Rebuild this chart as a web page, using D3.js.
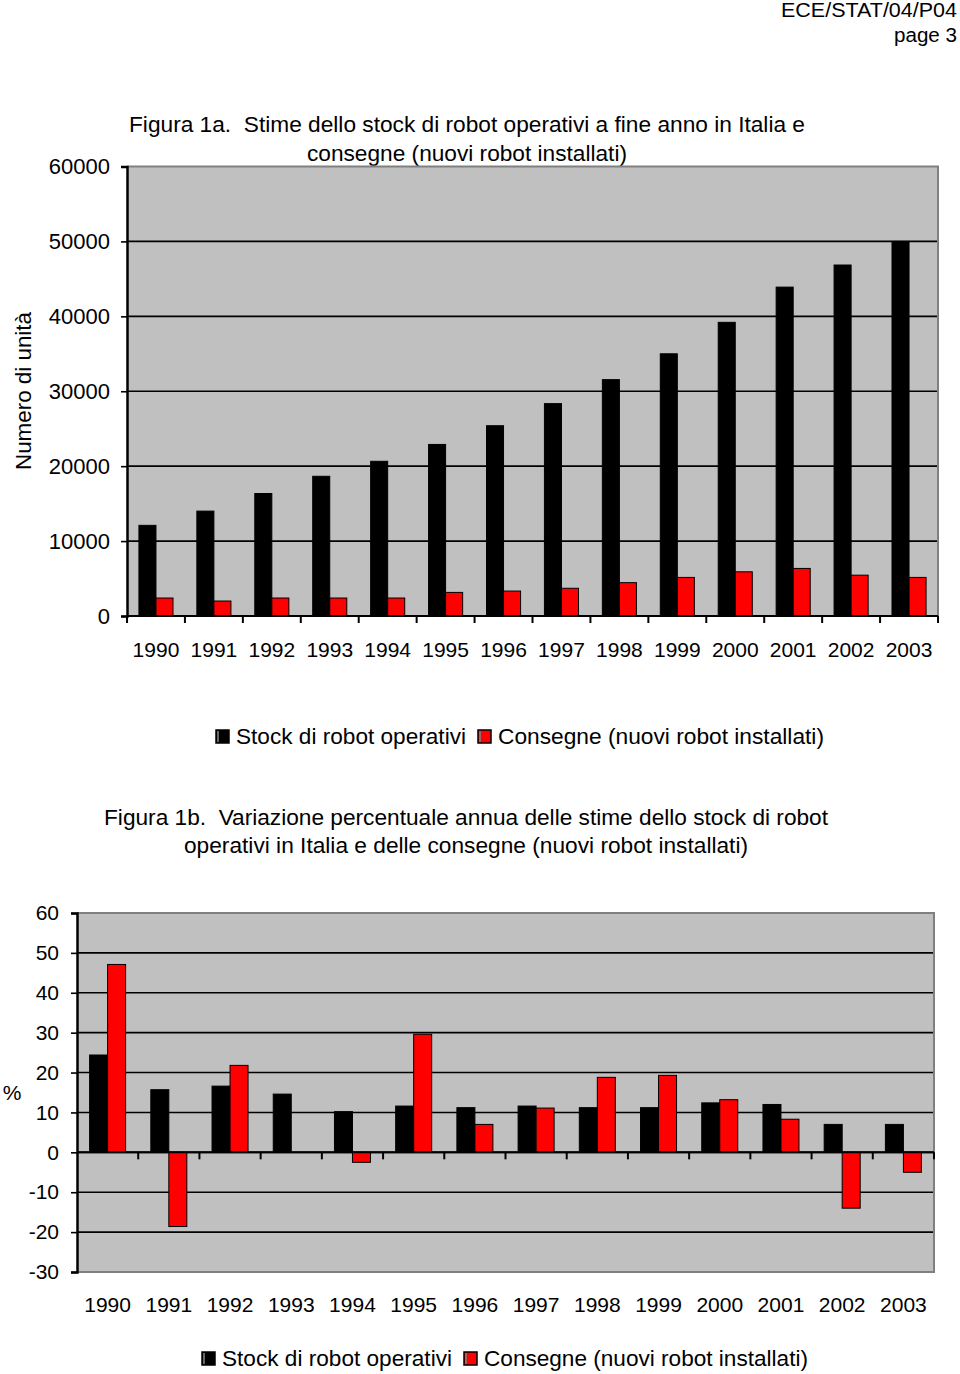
<!DOCTYPE html>
<html><head><meta charset="utf-8">
<script src="https://cdn.jsdelivr.net/npm/d3@7"></script>
<style>body{margin:0;background:#fff}svg{display:block}text{font-family:"Liberation Sans",Arial,sans-serif;fill:#000}</style>
</head><body>
<script>
const years = ["1990","1991","1992","1993","1994","1995","1996","1997","1998","1999","2000","2001","2002","2003"];
const stock = [12100,14000,16350,18650,20650,22900,25400,28350,31550,35000,39200,43900,46850,50000];
const consegne = [2400,2000,2400,2400,2400,3150,3330,3700,4450,5150,5900,6350,5450,5150];
const stockPct = [24.4,15.7,16.6,14.6,10.2,11.6,11.2,11.6,11.2,11.2,12.4,12.0,7.0,7.0];
const consegnePct = [47.1,-18.6,21.8,0,-2.5,29.6,7.0,11.1,18.8,19.3,13.2,8.3,-14.0,-5.0];
const seriesNames = ["Stock di robot operativi","Consegne (nuovi robot installati)"];
const seriesColors = ["#000000","#ff0000"];
const ticks1 = [0,10000,20000,30000,40000,50000,60000];
const ticks2 = [-30,-20,-10,0,10,20,30,40,50,60];

const W = 960, H = 1374;
const svg = d3.select("body").append("svg").attr("width",W).attr("height",H);
svg.append("rect").attr("width",W).attr("height",H).attr("fill","#fff");

function txt(o){
  const t = svg.append("text").attr("x",o.x).attr("y",o.y).attr("font-size",o.size||20)
    .attr("text-anchor",o.anchor||"start").attr("xml:space","preserve").text(o.text);
  if(o.len){ t.attr("textLength",o.len).attr("lengthAdjust","spacingAndGlyphs"); }
  if(o.transform){ t.attr("transform",o.transform); }
  return t;
}

txt({x:957,y:17,anchor:"end",size:20,text:"ECE/STAT/04/P04",len:176});
txt({x:957,y:42,anchor:"end",size:20,text:"page 3",len:63});

function drawChart(cfg){
  const g = svg.append("g");
  const x = d3.scaleBand().domain(years).range([cfg.left,cfg.right]);
  const bw = x.bandwidth();
  const barW = bw/3.4;
  const xs = d3.scaleBand().domain([0,1]).range([(bw-2*barW)/2,(bw+2*barW)/2]);
  const y = d3.scaleLinear().domain(cfg.domain).range([cfg.bottom,cfg.top]);
  g.append("rect").attr("x",cfg.left).attr("y",cfg.top).attr("width",cfg.right-cfg.left).attr("height",cfg.bottom-cfg.top).attr("fill","#c0c0c0");
  g.selectAll(".grid").data(cfg.ticks.filter(t=>t!==cfg.domain[0]&&t!==cfg.domain[1])).join("line")
    .attr("x1",cfg.left).attr("x2",cfg.right).attr("y1",d=>y(d)).attr("y2",d=>y(d))
    .attr("stroke","#000").attr("stroke-width",1.6);
  g.append("path").attr("d",`M${cfg.left},${y(cfg.domain[1])}H${cfg.right}V${y(cfg.domain[0])}H${cfg.left}`)
    .attr("fill","none").attr("stroke","#808080").attr("stroke-width",2);
  [cfg.s1,cfg.s2].forEach((arr,si)=>{
    g.selectAll(".b"+si).data(arr).join("rect")
      .attr("x",(d,i)=>x(years[i])+xs(si))
      .attr("width",xs.bandwidth())
      .attr("y",d=>y(Math.max(0,d)))
      .attr("height",d=>Math.abs(y(d)-y(0)))
      .attr("fill",seriesColors[si]).attr("stroke","#000").attr("stroke-width",1);
  });
  const ya = g.append("g").attr("transform",`translate(${cfg.left},0)`)
    .call(d3.axisLeft(y).tickValues(cfg.ticks).tickSize(6).tickPadding(cfg.tickPad).tickFormat(d=>String(d)));
  ya.select(".domain").attr("stroke","#000").attr("stroke-width",2.5);
  ya.selectAll(".tick line").attr("stroke","#000").attr("stroke-width",1.6);
  ya.selectAll("text").attr("font-size",cfg.tickSize).attr("font-family","Liberation Sans, Arial, sans-serif").attr("fill","#000");
  g.append("line").attr("x1",cfg.left).attr("x2",cfg.right).attr("y1",y(0)).attr("y2",y(0)).attr("stroke","#000").attr("stroke-width",2);
  const bounds = years.map(v=>x(v)).concat([cfg.right]).filter((v,i)=>cfg.firstTick||i>0);
  g.selectAll(".xt").data(bounds).join("line")
    .attr("x1",d=>d).attr("x2",d=>d).attr("y1",y(0)).attr("y2",y(0)+7).attr("stroke","#000").attr("stroke-width",2);
  g.selectAll(".xl").data(years).join("text")
    .attr("x",d=>x(d)+bw/2).attr("y",cfg.xLabelY).attr("text-anchor","middle").attr("font-size",21).text(d=>d);
  cfg.legend.forEach((lx,i)=>{
    g.append("rect").attr("x",lx).attr("y",cfg.legendY-14).attr("width",13).attr("height",13)
      .attr("fill",seriesColors[i]).attr("stroke","#000").attr("stroke-width",1.5);
    g.append("rect").attr("x",lx+1.2).attr("y",cfg.legendY-13).attr("width",1.6).attr("height",11).attr("fill","#808080");
    g.append("text").attr("x",lx+20).attr("y",cfg.legendY).attr("font-size",22)
      .attr("textLength",cfg.legendLen[i]).attr("lengthAdjust","spacingAndGlyphs").text(seriesNames[i]);
  });
  return g;
}

// Chart 1
txt({x:467,y:132,anchor:"middle",size:22,len:676,text:"Figura 1a.  Stime dello stock di robot operativi a fine anno in Italia e"});
txt({x:467,y:161,anchor:"middle",size:22,len:320,text:"consegne (nuovi robot installati)"});
drawChart({left:127,right:938,top:166.5,bottom:616,domain:[0,60000],ticks:ticks1,s1:stock,s2:consegne,
  tickSize:22,tickPad:11,xLabelY:657,firstTick:true,legend:[216,478],legendY:744,legendLen:[230,326]});
txt({x:0,y:0,anchor:"middle",size:22,len:158,text:"Numero di unità",transform:"translate(31,391) rotate(-90)"});

// Chart 2
txt({x:466,y:825,anchor:"middle",size:22,len:724,text:"Figura 1b.  Variazione percentuale annua delle stime dello stock di robot"});
txt({x:466,y:853,anchor:"middle",size:22,len:564,text:"operativi in Italia e delle consegne (nuovi robot installati)"});
drawChart({left:77,right:934,top:913,bottom:1272,domain:[-30,60],ticks:ticks2,s1:stockPct,s2:consegnePct,
  tickSize:21,tickPad:12,xLabelY:1312,firstTick:false,legend:[202,464],legendY:1366,legendLen:[230,324]});
txt({x:12,y:1100,anchor:"middle",size:21,text:"%"});
</script>
</body></html>
